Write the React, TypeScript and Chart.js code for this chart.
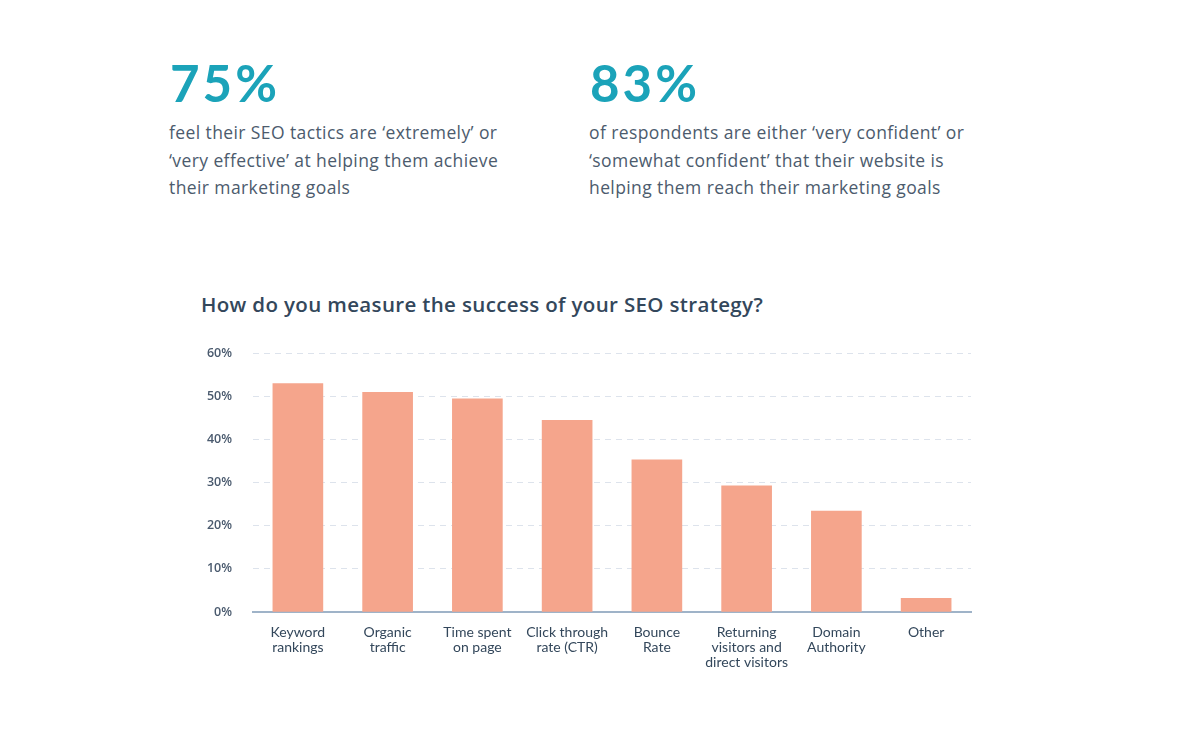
import React, { useEffect, useRef } from "react";
import { Chart, registerables } from "chart.js";

Chart.register(...registerables);

const categories: string[][] = [
  ["Keyword", "rankings"],
  ["Organic", "traffic"],
  ["Time spent", "on page"],
  ["Click through", "rate (CTR)"],
  ["Bounce", "Rate"],
  ["Returning", "visitors and", "direct visitors"],
  ["Domain", "Authority"],
  ["Other"],
];
const values: number[] = [53, 51, 49.5, 44.5, 35.3, 29.3, 23.4, 3.2];
const yTicks: number[] = [0, 10, 20, 30, 40, 50, 60];

const title = "How do you measure the success of your SEO strategy?";
const stat1 = "75%";
const stat1Text = ["feel their SEO tactics are \u2018extremely\u2019 or", "\u2018very effective\u2019 at helping them achieve", "their marketing goals"];
const stat2 = "83%";
const stat2Text = ["of respondents are either \u2018very confident\u2019 or", "\u2018somewhat confident\u2019 that their website is", "helping them reach their marketing goals"];

const LATO = "Lato, 'Open Sans', sans-serif";
const OPEN = "'Open Sans', Lato, sans-serif";

export default function App() {
  const ref = useRef<HTMLCanvasElement | null>(null);

  useEffect(() => {
    if (!ref.current) return;
    const chart = new Chart(ref.current, {
      type: "bar",
      data: {
        labels: categories,
        datasets: [
          {
            data: values,
            backgroundColor: "#F5A58C",
            borderWidth: 0,
            barThickness: 50,
          },
        ],
      },
      options: {
        animation: false,
        responsive: false,
        maintainAspectRatio: false,
        layout: { padding: { top: 13, right: 9, left: 0, bottom: 0 } },
        plugins: { legend: { display: false }, tooltip: { enabled: false } },
        scales: {
          x: {
            grid: { display: false, drawTicks: false },
            border: { display: true, color: "#9fb3c8", width: 2 },
            ticks: {
              color: "#33475b",
              font: { family: LATO, size: 14, lineHeight: 1.08 },
              padding: 13,
              maxRotation: 0,
              autoSkip: false,
            },
            afterFit: (s: any) => {
              s.height = 72;
            },
          },
          y: {
            min: 0,
            max: 60,
            afterBuildTicks: (s: any) => {
              s.ticks = yTicks.map((v) => ({ value: v }));
            },
            grid: {
              color: "#dde3ec",
              lineWidth: 1,
              drawTicks: false,
            },
            border: { display: false, dash: [6, 5] },
            ticks: {
              color: "#4a5a6e",
              font: { family: OPEN, size: 12.5, weight: "600" },
              padding: 21,
              callback: (v: any) => v + "%",
            },
            afterFit: (s: any) => {
              s.width = 73;
            },
          },
        },
      },
    });
    return () => chart.destroy();
  }, []);

  const statNum: React.CSSProperties = {
    position: "absolute",
    fontFamily: LATO,
    fontWeight: 700,
    fontSize: 51,
    color: "#1ba3b9",
    lineHeight: "50px",
    letterSpacing: 3,
  };
  const statBody: React.CSSProperties = {
    position: "absolute",
    fontFamily: OPEN,
    fontSize: 17.5,
    color: "#4c5b6d",
    lineHeight: "27.5px",
    letterSpacing: 0.4,
    whiteSpace: "nowrap",
  };

  return (
    <div style={{ position: "absolute", left: 0, top: 0, width: 1200, height: 733, background: "#fff", overflow: "hidden" }}>
      <div style={{ ...statNum, left: 170, top: 58 }}>{stat1}</div>
      <div style={{ ...statBody, left: 169, top: 119 }}>
        {stat1Text.map((t, i) => (
          <div key={i}>{t}</div>
        ))}
      </div>
      <div style={{ ...statNum, left: 590, top: 58 }}>{stat2}</div>
      <div style={{ ...statBody, left: 589, top: 119 }}>
        {stat2Text.map((t, i) => (
          <div key={i}>{t}</div>
        ))}
      </div>
      <div
        style={{
          position: "absolute",
          left: 201,
          top: 290,
          fontFamily: OPEN,
          fontWeight: 600,
          fontSize: 20.5,
          letterSpacing: 0.35,
          color: "#33475b",
          whiteSpace: "nowrap",
        }}
      >
        {title}
      </div>
      <canvas ref={ref} width={800} height={359} style={{ position: "absolute", left: 180, top: 325, width: 800, height: 359 }} />
    </div>
  );
}
